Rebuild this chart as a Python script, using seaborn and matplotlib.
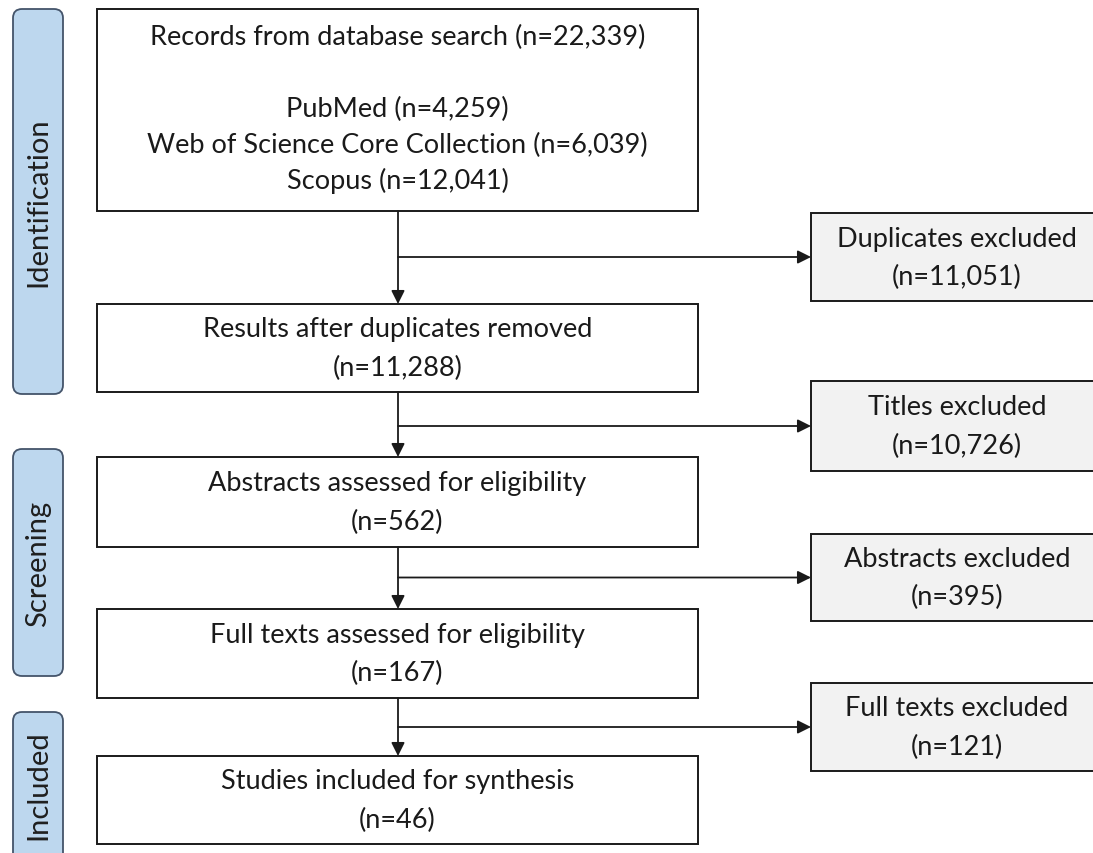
import matplotlib
matplotlib.use("Agg")
import matplotlib.pyplot as plt
from matplotlib.patches import FancyBboxPatch, Rectangle
import seaborn as sns

sns.set_theme(style="white")
plt.rcParams["font.family"] = ["Lato", "DejaVu Sans"]

# ---- data ----
main_labels = [
    "Records from database search",
    "Results after duplicates removed",
    "Abstracts assessed for eligibility",
    "Full texts assessed for eligibility",
    "Studies included for synthesis",
]
main_counts = ["22,339", "11,288", "562", "167", "46"]
source_names = ["PubMed", "Web of Science Core Collection", "Scopus"]
source_counts = ["4,259", "6,039", "12,041"]
excl_labels = [
    "Duplicates excluded",
    "Titles excluded",
    "Abstracts excluded",
    "Full texts excluded",
]
excl_counts = ["11,051", "10,726", "395", "121"]
stage_labels = ["Identification", "Screening", "Included"]

# ---- layout (pixel coordinates) ----
W, H = 1093, 854
main_x0, main_x1 = 97, 698
main_y = [(10, 212), (305, 393), (458, 548), (610, 699), (757, 845)]
excl_x0, excl_x1 = 811, 1103
excl_y = [(214, 302), (382, 472), (535, 622), (684, 772)]
stage_y = [(10, 395), (450, 677), (713, 880)]
stage_x0, stage_x1 = 13, 63
flow_x = 398

FS = 19.5
FS_STAGE = 21
fig = plt.figure(figsize=(W / 100, H / 100), dpi=100)
ax = fig.add_axes([0, 0, 1, 1])
ax.set_xlim(0, W)
ax.set_ylim(H, 0)
ax.axis("off")

# stage bars
for lab, (y0, y1) in zip(stage_labels, stage_y):
    ax.add_patch(FancyBboxPatch((stage_x0, y0), stage_x1 - stage_x0, y1 - y0,
                                boxstyle="round,pad=0,rounding_size=9",
                                fc="#BDD7EE", ec="#44546A", lw=1.3))
    yc = (y0 + min(y1, 857)) / 2
    ax.text((stage_x0 + stage_x1) / 2, yc, lab, rotation=90, ha="center",
            va="center", fontsize=FS_STAGE, color="#1f1f1f")

# main boxes
cx = (main_x0 + main_x1) / 2
for i, (lab, n) in enumerate(zip(main_labels, main_counts)):
    y0, y1 = main_y[i]
    ax.add_patch(Rectangle((main_x0, y0), main_x1 - main_x0, y1 - y0,
                           fc="white", ec="#1a1a1a", lw=1.4))
    if i == 0:
        ax.text(cx, 37, f"{lab} (n={n})", ha="center", va="center",
                fontsize=FS, color="#1a1a1a")
        for j, (s, c) in enumerate(zip(source_names, source_counts)):
            ax.text(cx, 109 + j * 36, f"{s} (n={c})", ha="center",
                    va="center", fontsize=FS, color="#1a1a1a")
    else:
        yc = (y0 + y1) / 2
        ax.text(cx, yc - 19, lab, ha="center", va="center", fontsize=FS,
                color="#1a1a1a")
        ax.text(cx, yc + 19, f"(n={n})", ha="center", va="center",
                fontsize=FS, color="#1a1a1a")

# exclusion boxes
ex_cx = (excl_x0 + excl_x1) / 2
for (lab, n), (y0, y1) in zip(zip(excl_labels, excl_counts), excl_y):
    ax.add_patch(Rectangle((excl_x0, y0), excl_x1 - excl_x0, y1 - y0,
                           fc="#F2F2F2", ec="#1a1a1a", lw=1.4))
    yc = (y0 + y1) / 2
    ax.text(ex_cx, yc - 19, lab, ha="center", va="center", fontsize=FS,
            color="#1a1a1a")
    ax.text(ex_cx, yc + 19, f"(n={n})", ha="center", va="center",
            fontsize=FS, color="#1a1a1a")

# arrows
arrow_kw = dict(arrowstyle="-|>", color="#1a1a1a", lw=1.3,
                mutation_scale=20, shrinkA=0, shrinkB=0)
for i in range(4):
    ytop = main_y[i][1]
    ybot = main_y[i + 1][0]
    ax.annotate("", xy=(flow_x, ybot), xytext=(flow_x, ytop),
                arrowprops=arrow_kw)
    ey = (excl_y[i][0] + excl_y[i][1]) / 2
    ax.annotate("", xy=(excl_x0, ey), xytext=(flow_x, ey),
                arrowprops=arrow_kw)

fig.savefig("out.png", dpi=100)
